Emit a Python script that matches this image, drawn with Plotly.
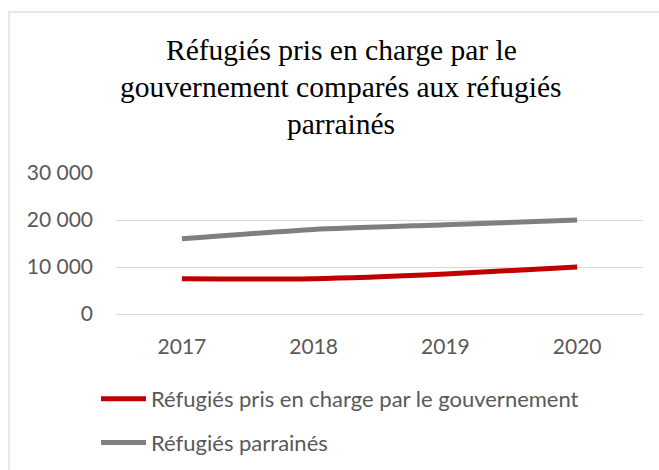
import plotly.graph_objects as go

years = ["2017", "2018", "2019", "2020"]
gov = [7500, 7500, 8500, 10000]
sponsored = [16000, 18000, 19000, 20000]
name_gov = "Réfugiés pris en charge par le gouvernement"
name_sp = "Réfugiés parrainés"
title_lines = ["Réfugiés pris en charge par le",
               "gouvernement comparés aux réfugiés",
               "parrainés"]

# page pixel coordinates
W, H = 659, 470
L, T = 116, 173
PW, PH = 527, 141
R, B = W - L - PW, H - T - PH

def px_x(x):
    return (x - L) / PW

def px_y(y):
    return (T + PH - y) / PH

fig = go.Figure()
fig.add_trace(go.Scatter(x=years, y=gov, name=name_gov, mode="lines",
                         line=dict(color="#c00000", width=5, shape="spline", smoothing=0.6),
                         legendgroup="a"))
fig.add_trace(go.Scatter(x=years, y=sponsored, name=name_sp, mode="lines",
                         line=dict(color="#7f7f7f", width=5, shape="spline", smoothing=0.6),
                         legendgroup="b"))

tick_font = dict(family="Lato", size=21, color="#595959")
fig.update_layout(
    width=W, height=H,
    margin=dict(l=L, r=R, t=T, b=B, autoexpand=False),
    paper_bgcolor="white", plot_bgcolor="white",
    separators=", ",
    showlegend=True,
    legend=dict(x=px_x(96), y=px_y(378), xanchor="left", yanchor="top",
                font=dict(family="Lato", size=22, color="#595959"),
                itemwidth=45, tracegroupgap=12, bgcolor="rgba(0,0,0,0)"),
    xaxis=dict(type="category", range=[-0.5, 3.5], showgrid=False, showline=False,
               ticks="", tickfont=tick_font, ticklabelstandoff=18, zeroline=False),
    yaxis=dict(range=[0, 30000], tickvals=[0, 10000, 20000, 30000], tickformat=",d",
               showgrid=True, gridcolor="#d9d9d9", gridwidth=1, zeroline=True,
               zerolinecolor="#d9d9d9", zerolinewidth=1, showline=False, ticks="",
               tickfont=tick_font, ticklabelstandoff=22),
)

title_y = [50, 87, 124]
for txt, yy in zip(title_lines, title_y):
    fig.add_annotation(text=txt, xref="paper", yref="paper", x=px_x(341), y=px_y(yy),
                       xanchor="center", yanchor="middle", showarrow=False,
                       font=dict(family="Liberation Serif", size=29.5, color="#000000"))

fig.add_shape(type="rect", xref="paper", yref="paper",
              x0=px_x(9), x1=px_x(700), y0=px_y(12), y1=px_y(520),
              line=dict(color="#dde2e2", width=1.5), layer="below")

fig.write_html("out.html", config={"displayModeBar": False},
               post_script="document.body.style.margin='0';document.body.style.overflow='hidden';")
